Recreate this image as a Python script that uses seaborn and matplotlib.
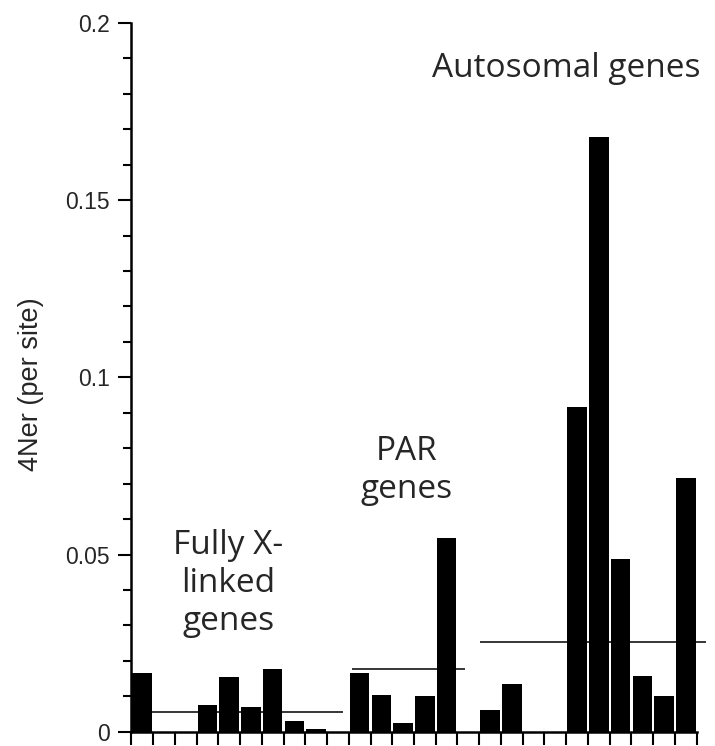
import numpy as np
import pandas as pd
import seaborn as sns
import matplotlib.pyplot as plt
from matplotlib.ticker import MultipleLocator

# 数据: 每个基因的 4Ner 估计值 (0 = 没有柱子)
x_linked = [0.0166, 0, 0, 0.0076, 0.0155, 0.0071, 0.0178, 0.0029, 0.0009, 0]
par = [0.0165, 0.0104, 0.0024, 0.0101, 0.0546, 0]
autosomal = [0.0062, 0.0135, 0, 0, 0.0917, 0.1677, 0.0486, 0.0156, 0.0102, 0.0716]

# 各组平均值 (横线)
group_means = [0.0055, 0.0177, 0.0254]
group_names = ['Fully X-\nlinked\ngenes', 'PAR\ngenes', 'Autosomal genes']

# y 轴刻度
ytick_values = [0, 0.05, 0.1, 0.15, 0.2]
ytick_labels = ['0', '0.05', '0.1', '0.15', '0.2']

# 拼成一个 DataFrame
groups = [x_linked, par, autosomal]
rows = []
for g, vals in enumerate(groups):
    for i, v in enumerate(vals):
        rows.append({'gene': f'g{g}_{i}', 'group': g, 'value': v})
data = pd.DataFrame(rows)

sns.set_style('ticks')
plt.rcParams['font.family'] = ['Liberation Sans', 'DejaVu Sans']

fig = plt.figure(figsize=(7.15, 7.46), dpi=100)
plt.subplots_adjust(left=131.3 / 715, right=696.7 / 715,
                    bottom=(746 - 731.7) / 746, top=(746 - 23) / 746)
ax = plt.gca()

sns.barplot(data=data, x='gene', y='value', order=data['gene'],
            color='black', saturation=1, width=0.89, linewidth=0, ax=ax)

# 组平均线 (左右留白是手画的，所以每组单独设置)
line_pads = [(0.94, -0.27), (0.13, -0.66), (0.03, 0.45)]
# 文字位置: (x 中心, 最后一行的基线)
label_pos = [(3.95, 0.0287), (12.14, 0.0659), (19.49, 0.1848)]
start = 0
for g, vals in enumerate(groups):
    n = len(vals)
    x0 = start - 0.5 + line_pads[g][0]
    x1 = start + n - 0.5 + line_pads[g][1]
    ax.hlines(group_means[g], x0, x1, color='black', linewidth=1.1, clip_on=False)
    ax.text(label_pos[g][0], label_pos[g][1], group_names[g],
            ha='center', va='baseline', multialignment='center',
            fontsize=24, family=['Open Sans', 'DejaVu Sans'], linespacing=1.2)
    start += n

# 坐标轴
ax.set_xlim(-0.5, len(data) - 0.5)
ax.set_xticks(np.arange(-0.5, len(data), 1))
ax.set_xticklabels([])
ax.set_xlabel('')
ax.set_ylim(0, 0.2)
ax.set_yticks(ytick_values)
ax.set_yticklabels(ytick_labels, fontsize=16.5)
ax.yaxis.set_minor_locator(MultipleLocator(0.01))
ax.tick_params(axis='x', direction='out', length=9.4, width=1.5, color='black')
ax.tick_params(axis='y', which='major', direction='out', length=9.4, width=1.5,
               color='black', pad=6)
ax.tick_params(axis='y', which='minor', direction='out', length=5.8, width=1.5,
               color='black')

sns.despine(ax=ax)
for s in ['left', 'bottom']:
    ax.spines[s].set_linewidth(1.8)
    ax.spines[s].set_color('black')

ax.set_ylabel('4Ner (per site)', fontsize=19.5)
ax.yaxis.set_label_coords(-0.155, 0.49)

plt.savefig('out.png', dpi=100)
